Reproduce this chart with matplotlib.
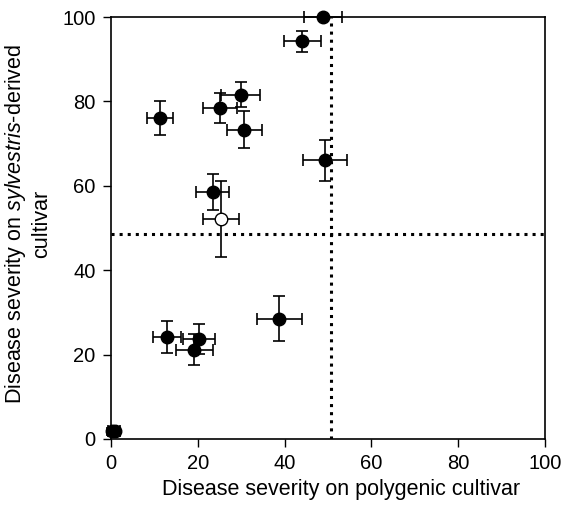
import matplotlib.pyplot as plt

plt.rcParams['font.family'] = ['Liberation Sans', 'DejaVu Sans']
plt.rcParams['mathtext.fontset'] = 'custom'
plt.rcParams['mathtext.rm'] = 'Liberation Sans'
plt.rcParams['mathtext.it'] = 'Liberation Sans:italic'

# filled points: polygenic (x) vs sylvestris-derived (y)
x = [48.9, 44.1, 29.9, 25.2, 11.3, 30.7, 49.3, 23.4, 12.9, 20.2, 19.2, 38.8, 0.3, 1.0]
y = [100.0, 94.3, 81.6, 78.5, 76.0, 73.3, 66.0, 58.6, 24.1, 23.7, 21.2, 28.5, 1.8, 1.8]
xerr = [4.4, 4.2, 4.5, 3.9, 2.9, 4.0, 5.0, 3.9, 3.3, 3.7, 4.3, 5.2, 1.0, 1.0]
yerr = [0.0, 2.5, 3.0, 3.6, 4.0, 4.4, 4.8, 4.3, 3.8, 3.5, 3.7, 5.3, 0.8, 0.8]

# open point
xo, yo, xoerr, yoerr = [25.3], [52.2], [4.2], [9.0]

vline_x = 50.6
hline_y = 48.6

fig = plt.figure(figsize=(5.62, 5.05), dpi=100)
ax = fig.add_axes([0.1975, 0.1307, 0.7723, 0.8356])

ax.axvline(vline_x, color='black', linestyle=':', linewidth=2.2, zorder=1)
ax.axhline(hline_y, color='black', linestyle=':', linewidth=2.2, zorder=1)

ax.errorbar(x, y, xerr=xerr, yerr=yerr, fmt='o', color='black', markersize=9,
            ecolor='black', elinewidth=1.2, capsize=4, capthick=1.2,
            clip_on=False, zorder=3)
ax.errorbar(xo, yo, xerr=xoerr, yerr=yoerr, fmt='o', color='black', markersize=9,
            markerfacecolor='white', ecolor='black', elinewidth=1.2, capsize=4,
            capthick=1.2, clip_on=False, zorder=3)

ax.set_xlim(0, 100)
ax.set_ylim(0, 100)
ax.set_xticks(range(0, 101, 20))
ax.set_yticks(range(0, 101, 20))
ax.tick_params(direction='out', length=6, width=1, labelsize=14.5, pad=5)
for s in ax.spines.values():
    s.set_linewidth(1.2)

ax.set_xlabel('Disease severity on polygenic cultivar', fontsize=15.5, labelpad=4)
ax.xaxis.label.set_x(0.53)
ax.set_ylabel('Disease severity on $\\mathit{sylvestris}$-derived\ncultivar',
              fontsize=15.5, labelpad=7)
ax.yaxis.label.set_y(0.51)

fig.savefig('out.png', dpi=100)
